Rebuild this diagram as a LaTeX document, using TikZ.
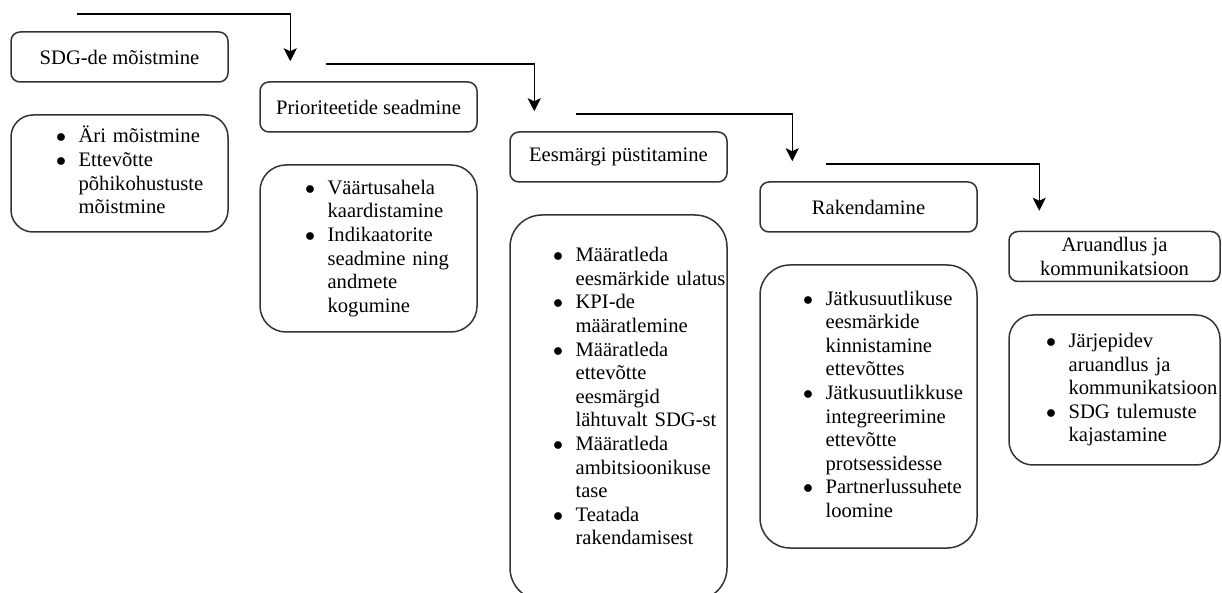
\documentclass[tikz,border=0pt]{standalone}
\usepackage{fontspec}
\setmainfont{Liberation Serif}
\usetikzlibrary{arrows.meta}
\begin{document}
\begin{tikzpicture}
		[x=0.5pt,y=-0.5pt,
		titlebox/.style={draw=black!80,line width=0.75pt,rounded corners=4.5pt,
inner sep=0pt,minimum width=108.5pt,minimum height=25pt,align=center,
font=\fontsize{10.3}{11.8}\selectfont},
		listbox/.style={draw=black!80,line width=0.75pt,inner sep=0pt,
minimum width=108.5pt,text width=108.5pt,align=left,
font=\fontsize{10.3}{11.8}\selectfont},
		flow/.style={-{Stealth[length=6.5pt,width=6.5pt,inset=1.5pt]},line width=0.75pt,
shorten >=10pt}]
		\useasboundingbox (0,0) rectangle (1222,593);
		\node at (119.5,57) (t1) [titlebox] {SDG-de mõistmine};
		\node at (368.5,107) (t2) [titlebox] {Prioriteetide seadmine};
		\node at (618.5,157) (t3) [titlebox] {Eesmärgi püstitamine};
		\node at (868.5,207) (t4) [titlebox] {Rakendamine};
		\node at (1114.5,256.5) (t5) [titlebox,minimum width=105.5pt] {Aruandlus ja\\kommunikatsioon};
		\node at (119.5,173.5) (b1) [listbox,rounded corners=11pt,minimum height=58.5pt]
			{\hspace*{22.5pt}\begin{tabular}{@{}c@{\hspace{6.3pt}}l@{}}
			$\bullet$ & Äri mõistmine\\
			$\bullet$ & Ettevõtte\\
			 & põhikohustuste\\
			 & mõistmine
			\end{tabular}};
		\node at (368.5,248.5) (b2) [listbox,rounded corners=13pt,minimum height=83.5pt]
			{\hspace*{22.5pt}\begin{tabular}{@{}c@{\hspace{6.3pt}}l@{}}
			$\bullet$ & Väärtusahela\\
			 & kaardistamine\\
			$\bullet$ & Indikaatorite\\
			 & seadmine ning\\
			 & andmete\\
			 & kogumine
			\end{tabular}};
		\node at (618.5,407.5) (b3) [listbox,rounded corners=16pt,minimum height=192.5pt]
			{\hspace*{21.5pt}\begin{tabular}{@{}c@{\hspace{6.3pt}}l@{}}
			$\bullet$ & Määratleda\\
			 & eesmärkide ulatus\\
			$\bullet$ & KPI-de\\
			 & määratlemine\\
			$\bullet$ & Määratleda\\
			 & ettevõtte\\
			 & eesmärgid\\
			 & lähtuvalt SDG-st\\
			$\bullet$ & Määratleda\\
			 & ambitsioonikuse\\
			 & tase\\
			$\bullet$ & Teatada\\
			 & rakendamisest\\[9pt]
			\end{tabular}};
		\node at (868.5,406.5) (b4) [listbox,rounded corners=15pt,minimum height=141.5pt]
			{\hspace*{21.5pt}\begin{tabular}{@{}c@{\hspace{6.3pt}}l@{}}
			$\bullet$ & Jätkusuutlikuse\\
			 & eesmärkide\\
			 & kinnistamine\\
			 & ettevõttes\\
			$\bullet$ & Jätkusuutlikkuse\\
			 & integreerimine\\
			 & ettevõtte\\
			 & protsessidesse\\
			$\bullet$ & Partnerlussuhete\\
			 & loomine
			\end{tabular}};
		\node at (1114.5,390) (b5) [listbox,rounded corners=12pt,minimum width=105.5pt,
text width=105.5pt,minimum height=75pt]
			{\hspace*{18.5pt}\begin{tabular}{@{}c@{\hspace{6.3pt}}l@{}}
			$\bullet$ & Järjepidev\\
			 & aruandlus ja\\
			 & kommunikatsioon\\
			$\bullet$ & SDG tulemuste\\
			 & kajastamine
			\end{tabular}};
		\coordinate (s1) at ([xshift=33.5pt,yshift=8.5pt]t1.north west);
		\coordinate (s2) at ([xshift=33.5pt,yshift=8.5pt]t2.north west);
		\coordinate (s3) at ([xshift=33.5pt,yshift=8.5pt]t3.north west);
		\coordinate (s4) at ([xshift=33.5pt,yshift=8.5pt]t4.north west);
		\draw[flow] (s1) -| ([xshift=15.5pt]t2.north west);
		\draw[flow] (s2) -| ([xshift=12.5pt]t3.north west);
		\draw[flow] (s3) -| ([xshift=16.5pt]t4.north west);
		\draw[flow] (s4) -| ([xshift=15.5pt]t5.north west);
	\end{tikzpicture}
\end{document}
